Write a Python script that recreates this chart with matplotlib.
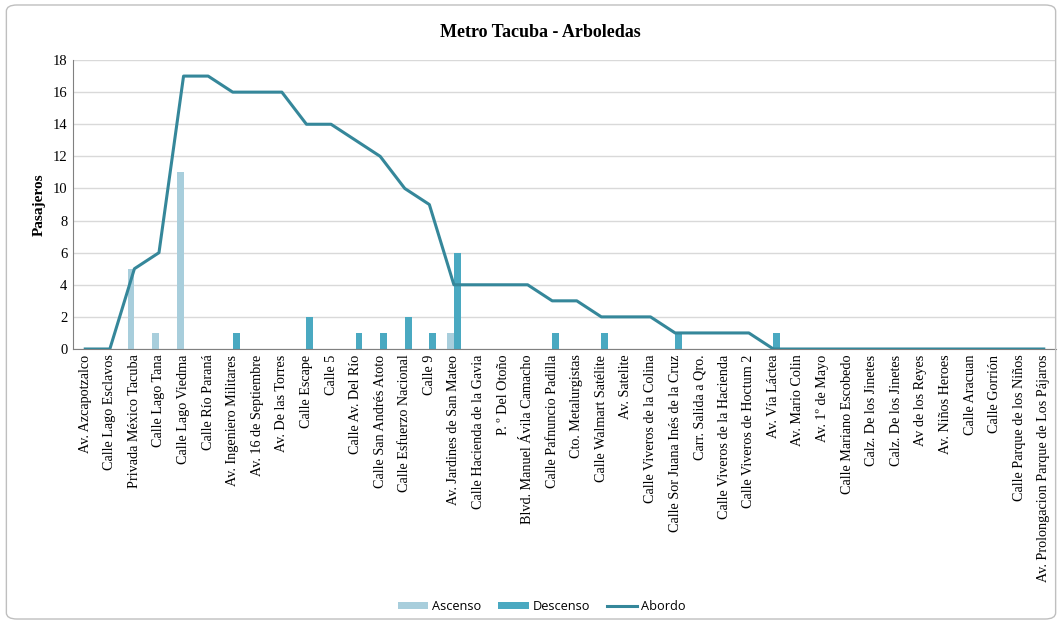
import matplotlib
matplotlib.use("Agg")
import matplotlib.pyplot as plt
import numpy as np
from matplotlib.patches import FancyBboxPatch

# paradas de la ruta
paradas = [
    "Av. Azcapotzalco", "Calle Lago Esclavos", "Privada México Tacuba",
    "Calle Lago Tana", "Calle Lago Viedma", "Calle Río Paraná",
    "Av. Ingeniero Militares", "Av. 16 de Septiembre", "Av. De las Torres",
    "Calle Escape", "Calle 5", "Calle Av. Del Río", "Calle San Andrés Atoto",
    "Calle Esfuerzo Nacional", "Calle 9", "Av. Jardines de San Mateo",
    "Calle Hacienda de la Gavia", "P. º Del Otoño", "Blvd. Manuel Ávila Camacho",
    "Calle Pafnuncio Padilla", "Cto. Metalurgistas", "Calle Walmart Satélite",
    "Av. Satelite", "Calle Viveros de la Colina", "Calle Sor Juana Inés de la Cruz",
    "Carr. Salida a Qro.", "Calle Viveros de la Hacienda", "Calle Viveros de Hoctum 2",
    "Av. Vía Láctea", "Av. Mario Colin", "Av. 1º de Mayo", "Calle Mariano Escobedo",
    "Calz. De los Jinetes", "Calz. De los Jinetes", "Av de los Reyes",
    "Av. Niños Heroes", "Calle Aracuan", "Calle Gorrión",
    "Calle Parque de los Niños", "Av. Prolongacion Parque de Los Pájaros",
]
ascenso = [0, 0, 5, 1, 11, 0, 0, 0, 0, 0, 0, 0, 0, 0, 0, 1, 0, 0, 0, 0,
           0, 0, 0, 0, 0, 0, 0, 0, 0, 0, 0, 0, 0, 0, 0, 0, 0, 0, 0, 0]
descenso = [0, 0, 0, 0, 0, 0, 1, 0, 0, 2, 0, 1, 1, 2, 1, 6, 0, 0, 0, 1,
            0, 1, 0, 0, 1, 0, 0, 0, 1, 0, 0, 0, 0, 0, 0, 0, 0, 0, 0, 0]
abordo = [0, 0, 5, 6, 17, 17, 16, 16, 16, 14, 14, 13, 12, 10, 9, 4, 4, 4, 4, 3,
          3, 2, 2, 2, 1, 1, 1, 1, 0, 0, 0, 0, 0, 0, 0, 0, 0, 0, 0, 0]

c_asc = "#A8CEDC"
c_des = "#4AA9C1"
c_abo = "#35879A"

fig = plt.figure(figsize=(10.62, 6.24), dpi=100)
fig.patches.append(FancyBboxPatch((0.006, 0.008), 0.988, 0.984,
                                  boxstyle="round,pad=0,rounding_size=0.01",
                                  transform=fig.transFigure, fill=False,
                                  edgecolor="#BFBFBF", linewidth=1))
ax = fig.add_axes([0.0687, 0.4407, 0.9257, 0.4631])

x = np.arange(len(paradas))
w = 0.28
b1 = ax.bar(x - w / 2, ascenso, w, color=c_asc, label="Ascenso", zorder=2)
b2 = ax.bar(x + w / 2, descenso, w, color=c_des, label="Descenso", zorder=2)
l1, = ax.plot(x, abordo, color=c_abo, linewidth=2.2, label="Abordo", zorder=3)

ax.set_xlim(-0.5, len(paradas) - 0.5)
ax.set_ylim(0, 18)
ax.set_yticks(range(0, 19, 2))
ax.set_xticks(x)
ax.set_xticklabels(paradas, rotation=90, family="Liberation Serif", fontsize=10.2)
for t in ax.get_yticklabels():
    t.set_family("Liberation Serif")
    t.set_fontsize(10.5)
ax.tick_params(length=0, pad=4)
ax.grid(axis="y", color="#D9D9D9", linewidth=1, zorder=0)
ax.set_axisbelow(True)
for s in ["top", "right"]:
    ax.spines[s].set_visible(False)
ax.spines["left"].set_color("#808080")
ax.spines["bottom"].set_color("#808080")
ax.set_ylabel("Pasajeros", family="Liberation Serif", fontweight="bold",
              fontsize=11, labelpad=5)

fig.text(0.509, 0.948, "Metro Tacuba - Arboledas", family="Liberation Serif",
         fontweight="bold", fontsize=13, ha="center", va="center")

fig.legend([b1, b2, l1], ["Ascenso", "Descenso", "Abordo"],
           loc="center", bbox_to_anchor=(0.51, 0.028), ncol=3, frameon=False,
           prop={"family": "Open Sans", "size": 9.2}, handlelength=2.4,
           handleheight=0.5, columnspacing=1.3, handletextpad=0.3)

fig.savefig("out.png", dpi=100)
